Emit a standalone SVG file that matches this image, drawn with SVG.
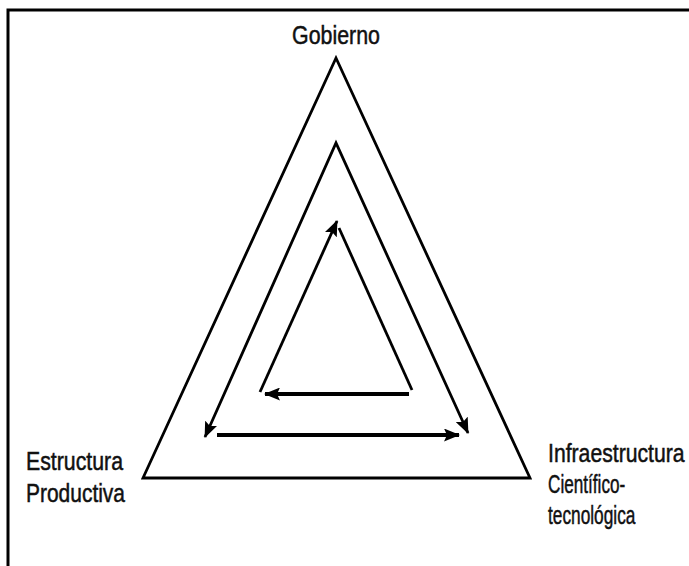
<svg xmlns="http://www.w3.org/2000/svg" width="689" height="566" viewBox="0 0 689 566">
  <style>
    .lbl { font-family: "Liberation Sans Narrow", "Liberation Sans", Arial, sans-serif; font-size: 26px; fill: #111; stroke: #111; stroke-width: 0.5; }
    .edge { fill: none; stroke: #000; stroke-width: 2.8; stroke-linejoin: miter; }
    .thick { stroke-width: 3.8; }
    .frame { fill: none; stroke: #000; stroke-width: 3; }
  </style>
  <defs>
    <marker id="arrow" markerUnits="userSpaceOnUse" markerWidth="16" markerHeight="13" refX="15" refY="6.5" orient="auto-start-reverse" viewBox="0 0 16 13">
      <path d="M0,0 L16,6.5 L0,13 L3,6.5 z" fill="#000"/>
    </marker>
  </defs>
  <rect width="689" height="566" fill="#fff"/>
  <g id="frame">
    <path class="frame" d="M8,566 L8,10 L689,10"/>
  </g>
  <g id="connectors">
    <polygon class="edge" points="336,58 143,478 530,478"/>
    <polyline class="edge" points="205,437 336,143 468,433" marker-start="url(#arrow)" marker-end="url(#arrow)"/>
    <line class="edge thick" x1="217" y1="435" x2="459" y2="435" marker-end="url(#arrow)"/>
    <line class="edge" x1="260" y1="392" x2="337" y2="221" marker-end="url(#arrow)"/>
    <line class="edge" x1="339" y1="228" x2="412" y2="390"/>
    <line class="edge thick" x1="409" y1="394" x2="265" y2="394" marker-end="url(#arrow)"/>
  </g>
  <g id="gobierno">
    <text class="lbl" transform="translate(292,44) scale(0.823,1)">Gobierno</text>
  </g>
  <g id="estructura-productiva">
    <text class="lbl" transform="translate(26,470) scale(0.819,1)">Estructura</text>
    <text class="lbl" transform="translate(26,502) scale(0.806,1)">Productiva</text>
  </g>
  <g id="infraestructura">
    <text class="lbl" transform="translate(548,462) scale(0.815,1)">Infraestructura</text>
    <text class="lbl" transform="translate(548,493) scale(0.66,1)">Científico-</text>
    <text class="lbl" transform="translate(548,524) scale(0.665,1)">tecnológica</text>
  </g>
</svg>
